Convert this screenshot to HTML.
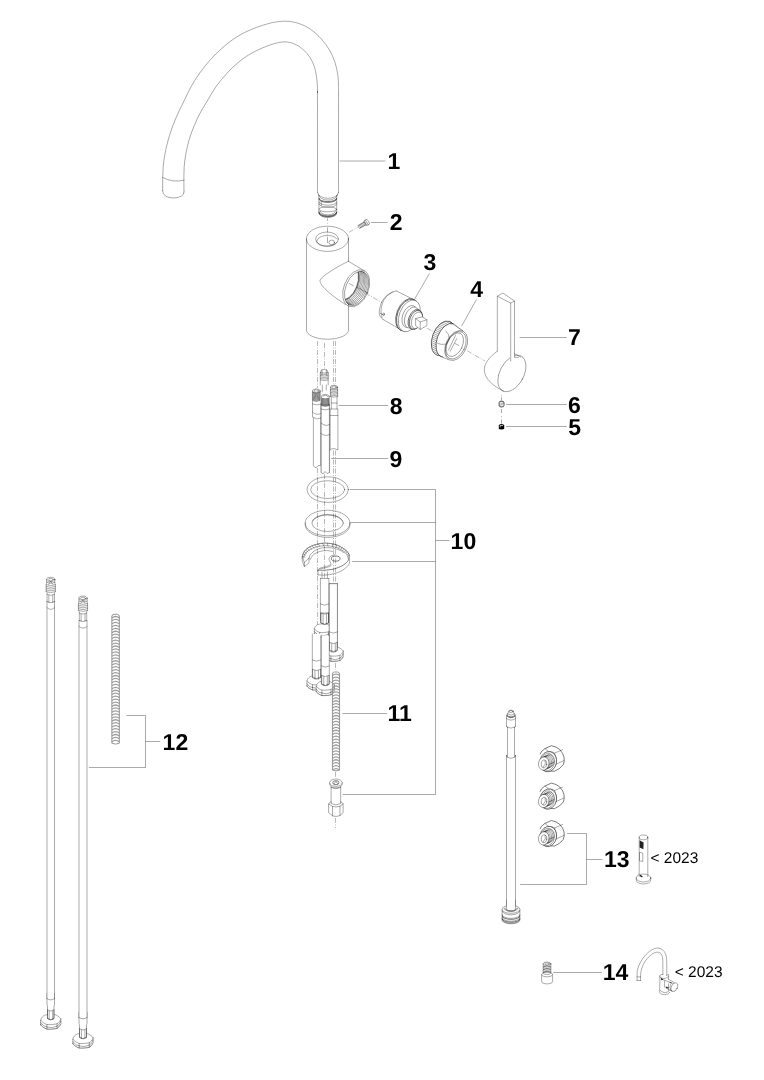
<!DOCTYPE html>
<html lang="en"><head><meta charset="utf-8"><title>Exploded view</title>
<style>
html,body{margin:0;padding:0;background:#fff;}
body{width:764px;height:1080px;overflow:hidden;}
svg{display:block;will-change:transform;opacity:.999}
.l{fill:none;stroke:#000;stroke-width:.34;stroke-linecap:round;stroke-linejoin:round}
.w{fill:#fff;stroke:#000;stroke-width:.34;stroke-linejoin:round}
.k{fill:none;stroke:#000;stroke-width:.52}
.wk{fill:#fff;stroke:#000;stroke-width:.52}
.sp{fill:none;stroke:#9c9c9c;stroke-width:1.25}
.sp2{fill:none;stroke:#8c8c8c;stroke-width:.9}
.ld{fill:none;stroke:#000;stroke-width:.34}
.ax{fill:none;stroke:#000;stroke-width:.28;stroke-dasharray:5 1.5 1 1.5}
.ax2{fill:none;stroke:#000;stroke-width:.34}
.n{font-family:"Liberation Sans",Arial,Helvetica,sans-serif;font-weight:bold;font-size:23px;fill:#000;text-rendering:geometricPrecision}
.y{font-family:"Liberation Sans",Arial,Helvetica,sans-serif;font-size:15.5px;fill:#000;text-rendering:geometricPrecision}
</style></head><body>
<svg width="764" height="1080" viewBox="0 0 764 1080">
<path class="l" d="M162.60 190.60C162.62 188.83 162.60 184.00 162.70 180.00C162.80 176.00 162.82 171.00 163.20 166.60C163.58 162.20 164.20 157.92 165.00 153.60C165.80 149.28 166.82 145.02 168.00 140.70C169.18 136.38 170.53 132.03 172.10 127.70C173.67 123.37 175.50 118.98 177.40 114.70C179.30 110.42 181.10 106.88 183.50 102.00C185.90 97.12 188.95 90.43 191.80 85.40C194.65 80.37 197.47 76.12 200.60 71.80C203.73 67.48 207.17 63.32 210.60 59.50C214.03 55.68 217.47 52.25 221.20 48.90C224.93 45.55 229.07 42.15 233.00 39.40C236.93 36.65 240.87 34.40 244.80 32.40C248.73 30.40 252.23 28.98 256.60 27.40C260.97 25.82 266.12 23.93 271.00 22.90C275.88 21.87 281.25 21.10 285.90 21.20C290.55 21.30 294.77 22.13 298.90 23.50C303.03 24.87 306.97 26.83 310.70 29.40C314.43 31.97 318.17 35.45 321.30 38.90C324.43 42.35 327.25 46.28 329.50 50.10C331.75 53.92 333.42 57.68 334.80 61.80C336.18 65.92 337.18 70.67 337.80 74.80C338.42 78.93 338.38 82.40 338.50 86.60C338.62 90.80 338.50 82.37 338.50 100.00C338.50 117.63 338.50 177.00 338.50 192.40" />
<path class="l" d="M184.00 192.00C183.98 190.00 183.87 184.23 183.90 180.00C183.93 175.77 183.87 171.00 184.20 166.60C184.53 162.20 185.07 158.12 185.90 153.60C186.73 149.08 187.87 144.02 189.20 139.50C190.53 134.98 192.13 130.82 193.90 126.50C195.67 122.18 197.65 117.72 199.80 113.60C201.95 109.48 204.22 106.12 206.80 101.80C209.38 97.48 212.50 91.82 215.30 87.70C218.10 83.58 220.65 80.53 223.60 77.10C226.55 73.67 229.67 70.23 233.00 67.10C236.33 63.97 239.87 60.95 243.60 58.30C247.33 55.65 250.95 53.43 255.40 51.20C259.85 48.97 265.80 46.43 270.30 44.90C274.80 43.37 278.82 42.32 282.40 42.00C285.98 41.68 288.85 42.15 291.80 43.00C294.75 43.85 297.55 45.33 300.10 47.10C302.65 48.87 305.05 51.15 307.10 53.60C309.15 56.05 310.98 58.85 312.40 61.80C313.82 64.75 314.82 67.95 315.60 71.30C316.38 74.65 316.78 78.37 317.10 81.90C317.42 85.43 317.43 89.48 317.50 92.50C317.57 95.52 317.50 83.35 317.50 100.00C317.50 116.65 317.50 177.00 317.50 192.40" />
<path class="l" d="M162.6 177.5Q173 183 184 180.2" />
<path class="l" d="M162.6 190.6Q163 198 173.6 198Q184 197.5 184 192" />
<path class="l" d="M317.5 192.4A10.5 5.9 0 0 0 338.5 192.4" />
<path class="l" d="M318.4 194.3A9.6 5.8 0 0 0 337.6 194.3" />
<path class="l" d="M318.9 195.5L318.9 212.4M336.7 195.5L336.7 212.4" />
<path class="k" d="M318.9 197.9A8.9 3.7 0 0 0 336.7 197.9" />
<path class="k" d="M318.9 198.7A8.9 3.7 0 0 0 336.7 198.7" />
<path class="l" d="M318.9 201.9A8.9 3.3 0 0 0 336.7 201.9" />
<path class="l" d="M318.9 203.8A8.9 3.6 0 0 0 336.7 203.8" />
<path class="l" d="M321.30 201.50L321.30 205.50"/>
<ellipse class="l" cx="327.80" cy="209.30" rx="8.90" ry="2.50"/>
<path class="k" d="M318.9 211.5A8.9 4.4 0 0 0 336.7 211.5" />
<path class="k" d="M318.9 212.2A8.9 4.4 0 0 0 336.7 212.2" />
<path class="k" d="M318.9 212.9A8.9 4.4 0 0 0 336.7 212.9" />
<path class="l" d="M320.2 211.2A7.6 3.6 0 0 0 335.4 211.2" />
<path class="ax2" d="M327.5 218.4V220.8M327.5 223V223.6M327.5 227.4V232.6M327.5 234.5V235.1M327.5 236.8V243"/>
<ellipse class="l" cx="327.50" cy="238.80" rx="21.00" ry="12.60"/>
<path class="l" d="M306.5 238.8L306.5 330A21 9.3 0 0 0 348.5 330L348.5 304.5" />
<path class="l" d="M348.50 238.80L348.50 261.30"/>
<ellipse class="l" cx="327.00" cy="239.00" rx="11.40" ry="7.00"/>
<path class="l" d="M316.8 241.8A10.5 6 0 0 1 336.5 238.6" />
<ellipse class="l" cx="331.70" cy="242.40" rx="2.80" ry="2.30"/>
<path class="l" d="M316.6 242A11 6.5 0 0 0 337.4 242" />
<path class="l" d="M348.5 261.3L364.5 271" />
<path class="l" d="M348.5 261.3C338 266 322 276 320 280C319 286 335 298 345.5 304.5" />
<clipPath id="oc"><ellipse cx="356.6" cy="288.5" rx="10.9" ry="18.0" transform="rotate(22 356.6 288.5)"/></clipPath>
<ellipse class="l" cx="356.20" cy="288.30" rx="12.30" ry="19.40" transform="rotate(22 356.20 288.30)"/>
<ellipse class="l" cx="356.60" cy="288.50" rx="10.90" ry="18.00" transform="rotate(22 356.60 288.50)"/>
<g clip-path="url(#oc)">
<ellipse class="l" cx="355.33" cy="287.81" rx="10.90" ry="18.00" transform="rotate(22 355.33 287.81)"/>
<ellipse class="l" cx="354.05" cy="287.12" rx="10.90" ry="18.00" transform="rotate(22 354.05 287.12)"/>
<ellipse class="l" cx="352.78" cy="286.43" rx="10.90" ry="18.00" transform="rotate(22 352.78 286.43)"/>
<ellipse class="l" cx="351.50" cy="285.73" rx="10.90" ry="18.00" transform="rotate(22 351.50 285.73)"/>
<ellipse class="l" cx="350.23" cy="285.04" rx="10.90" ry="18.00" transform="rotate(22 350.23 285.04)"/>
<ellipse class="l" cx="348.95" cy="284.35" rx="10.90" ry="18.00" transform="rotate(22 348.95 284.35)"/>
<ellipse class="l" cx="347.68" cy="283.66" rx="10.90" ry="18.00" transform="rotate(22 347.68 283.66)"/>
<ellipse class="l" cx="346.40" cy="282.97" rx="10.90" ry="18.00" transform="rotate(22 346.40 282.97)"/>
<ellipse class="k" cx="346.76" cy="283.16" rx="10.90" ry="18.00" transform="rotate(22 346.76 283.16)"/>
</g>
<path class="l" d="M349.50 283.60L353.50 285.80"/>
<path class="ax" d="M349.00 232.30L357.50 227.30"/>
<g transform="translate(364.2 223.9) rotate(-30)">
<path class="l" d="M-6 -1.6L1.5 -1.6L1.5 1.6L-6 1.6Z" />
<path class="l" d="M-5.00 -1.60L-5.00 1.60"/>
<path class="l" d="M-3.70 -1.60L-3.70 1.60"/>
<path class="l" d="M-2.40 -1.60L-2.40 1.60"/>
<path class="l" d="M-1.10 -1.60L-1.10 1.60"/>
<path class="l" d="M0.20 -1.60L0.20 1.60"/>
<path class="l" d="M1.5 -2.8L4.6 -2.8Q5.6 0 4.6 2.8L1.5 2.8Z" />
<path class="l" d="M3.00 -2.80L3.00 2.80"/>
</g>
<path class="ax" d="M365.50 293.10L382.00 302.60"/>
<path class="ax" d="M426.90 328.00L436.00 333.20"/>
<path class="ax" d="M467.20 350.80L485.00 361.00"/>
<path class="l" d="M396.30 290.90C394.92 291.50 390.33 292.82 388.00 294.50C385.67 296.18 383.70 298.58 382.30 301.00C380.90 303.42 380.05 306.63 379.60 309.00C379.15 311.37 379.05 313.47 379.60 315.20C380.15 316.93 382.35 318.70 382.90 319.40" />
<path class="l" d="M393.00 291.60C391.92 292.42 388.25 294.60 386.50 296.50C384.75 298.40 383.42 300.58 382.50 303.00C381.58 305.42 381.08 308.58 381.00 311.00C380.92 313.42 381.83 316.42 382.00 317.50" />
<path class="l" d="M396.30 290.90L413.90 299.70"/>
<path class="l" d="M382.90 319.40L398.50 328.40"/>
<ellipse class="l" cx="383.60" cy="314.20" rx="0.80" ry="1.40" transform="rotate(20 383.60 314.20)"/>
<path class="l" d="M380.30 313.30L382.80 314.60"/>
<ellipse class="wk" cx="406.90" cy="314.70" rx="10.20" ry="16.70" transform="rotate(20.7 406.90 314.70)"/>
<ellipse class="wk" cx="407.70" cy="315.10" rx="10.20" ry="16.70" transform="rotate(20.7 407.70 315.10)"/>
<ellipse class="w" cx="409.30" cy="315.90" rx="10.00" ry="16.50" transform="rotate(20.7 409.30 315.90)"/>
<ellipse class="w" cx="409.60" cy="316.50" rx="7.00" ry="11.40" transform="rotate(20.7 409.60 316.50)"/>
<ellipse class="w" cx="411.80" cy="317.60" rx="6.80" ry="11.00" transform="rotate(20.7 411.80 317.60)"/>
<ellipse class="wk" cx="415.10" cy="319.40" rx="6.40" ry="10.50" transform="rotate(20.7 415.10 319.40)"/>
<ellipse class="wk" cx="415.90" cy="319.80" rx="6.00" ry="9.80" transform="rotate(20.7 415.90 319.80)"/>
<ellipse class="w" cx="417.00" cy="320.30" rx="5.20" ry="8.60" transform="rotate(20.7 417.00 320.30)"/>
<path class="w" d="M415.6 318.5L422.3 316.9L426.9 319.8L426.9 325.6L420.2 329.4L415.6 325.7Z" />
<path class="l" d="M415.6 318.5L420.2 321.9L426.9 319.8M420.2 321.9L420.2 329.4" />
<clipPath id="nc"><ellipse cx="443.3" cy="338.3" rx="11" ry="18" transform="rotate(20 443.3 338.3)"/></clipPath>
<ellipse class="wk" cx="443.30" cy="338.30" rx="11.00" ry="18.00" transform="rotate(20 443.30 338.30)"/>
<g clip-path="url(#nc)">
<path class="l" d="M439.38 308.12L459.38 318.12"/>
<path class="l" d="M438.66 309.77L458.66 319.77"/>
<path class="l" d="M437.94 311.43L457.94 321.43"/>
<path class="l" d="M437.22 313.08L457.22 323.08"/>
<path class="l" d="M436.50 314.74L456.50 324.74"/>
<path class="l" d="M435.78 316.40L455.78 326.40"/>
<path class="l" d="M435.06 318.05L455.06 328.05"/>
<path class="l" d="M434.34 319.71L454.34 329.71"/>
<path class="l" d="M433.62 321.36L453.62 331.36"/>
<path class="l" d="M432.90 323.02L452.90 333.02"/>
<path class="l" d="M432.18 324.68L452.18 334.68"/>
<path class="l" d="M431.46 326.33L451.46 336.33"/>
<path class="l" d="M430.74 327.99L450.74 337.99"/>
<path class="l" d="M430.02 329.64L450.02 339.64"/>
<path class="l" d="M429.30 331.30L449.30 341.30"/>
<path class="l" d="M428.58 332.96L448.58 342.96"/>
<path class="l" d="M427.86 334.61L447.86 344.61"/>
<path class="l" d="M427.14 336.27L447.14 346.27"/>
<path class="l" d="M426.42 337.92L446.42 347.92"/>
<path class="l" d="M425.70 339.58L445.70 349.58"/>
<path class="l" d="M424.98 341.24L444.98 351.24"/>
<path class="l" d="M424.26 342.89L444.26 352.89"/>
<path class="l" d="M423.54 344.55L443.54 354.55"/>
<path class="l" d="M422.82 346.20L442.82 356.20"/>
<path class="l" d="M422.10 347.86L442.10 357.86"/>
<path class="l" d="M421.38 349.52L441.38 359.52"/>
<path class="l" d="M420.66 351.17L440.66 361.17"/>
<path class="l" d="M419.94 352.83L439.94 362.83"/>
<path class="l" d="M419.22 354.48L439.22 364.48"/>
</g>
<path class="w" style="stroke:none" d="M453.5 322.6L466 332L452 361L441.5 356.5Z"/>
<ellipse class="wk" cx="447.60" cy="340.30" rx="10.60" ry="17.50" transform="rotate(20 447.60 340.30)"/>
<path class="w" style="stroke:none" d="M453.5 323.2L466 332L452 361L442.5 357.3Z"/>
<path class="k" d="M449.5 321.4L463.2 331.2" />
<path class="l" d="M439.00 355.60L448.40 359.70"/>
<ellipse class="w" cx="456.20" cy="345.50" rx="10.20" ry="15.90" transform="rotate(26 456.20 345.50)"/>
<ellipse class="l" cx="455.80" cy="345.30" rx="9.20" ry="14.60" transform="rotate(26 455.80 345.30)"/>
<ellipse class="l" cx="454.80" cy="344.70" rx="7.60" ry="12.60" transform="rotate(26 454.80 344.70)"/>
<path class="l" d="M445.7 330.8Q449.8 334.5 449.3 339Q448 343.5 445.5 344.2Q441 345 437.5 343.3" />
<path class="l" d="M448.5 350L455.5 335.5M450.2 351.3L456.8 338.5M455 343.5L459 345.5" />
<ellipse class="l" cx="511.90" cy="373.40" rx="12.00" ry="19.70" transform="rotate(28 511.90 373.40)"/>
<path d="M509.9 349L514.5 349L514.5 357.6L510.7 361.2L509.9 361.9Z" fill="#fff"/>
<path class="l" d="M497.3 351.2L497.3 296.2L502.9 293.0L514.5 301.0L514.5 357.4L518.5 357.4" />
<path class="l" d="M497.3 296.2L510.7 303.1L514.5 301.0M510.7 303.1L510.7 361.2" />
<path class="l" d="M497.3 351.2C489 357 484 364 484.3 370.5C485 379 493 386 503.5 391.2" />
<path class="l" d="M514.5 353.8L520.8 357.0" />
<path class="ax2" d="M501.5 395L501.5 395.7M501.5 397.4L501.5 400.4M501.5 409L501.5 413M501.5 416L501.5 416.8M501.5 419.6L501.5 423.7"/>
<path d="M499.1 402.6Q499.1 401.1 501.5 401.1Q504 401.1 504 402.6L504 405.6Q504 407 501.5 407Q499.1 407 499.1 405.6Z" fill="#b8b8b8" stroke="#333" stroke-width=".8"/>
<path d="M500.3 404.6L500.3 402.6L502.6 402.4M500.6 405.8L503 405.6L503 404" fill="none" stroke="#fff" stroke-width=".7"/>
<path d="M498.8 425.6Q498.8 424 501.5 424Q504.2 424 504.2 425.6L504.2 428.2Q504.2 429.6 501.5 429.6Q498.8 429.6 498.8 428.2Z" fill="#000"/>
<path d="M500.2 427.3L500.2 425.6L503 425.5" fill="none" stroke="#fff" stroke-width=".7"/>
<path class="ax" d="M317.50 341.00L317.50 388.00"/>
<path class="ax" d="M324.50 343.00L324.50 369.00"/>
<path class="ax" d="M333.50 341.00L333.50 384.00"/>
<path class="ax" d="M335.50 341.00L335.50 384.00"/>
<path class="l" d="M320.3 385L320.3 373Q320.3 369.3 324.2 369.3Q328.2 369.3 328.2 373L328.2 385" />
<path class="l" d="M320.30 372.50Q324.25 373.70 328.20 372.50" />
<path class="l" d="M320.30 374.00Q324.25 375.20 328.20 374.00" />
<path class="l" d="M320.30 375.50Q324.25 376.70 328.20 375.50" />
<path class="l" d="M320.30 377.00Q324.25 378.20 328.20 377.00" />
<path class="l" d="M320.30 378.50Q324.25 379.70 328.20 378.50" />
<path class="l" d="M320.30 380.00Q324.25 381.20 328.20 380.00" />
<path class="l" d="M322 369.8L322 375M326.4 369.8L326.4 375" />
<path class="l" d="M322.30 385.00L322.30 392.00"/>
<path class="l" d="M326.30 385.00L326.30 390.00"/>
<ellipse class="l" cx="334.00" cy="387.20" rx="3.60" ry="2.00"/>
<ellipse class="l" cx="334.00" cy="387.20" rx="2.30" ry="1.20"/>
<path class="l" d="M330.4 387.2L330.4 396.5M337.6 387.2L337.6 396.5" />
<path class="l" d="M330.40 389.50Q334.00 390.90 337.60 389.50" />
<path class="l" d="M330.40 390.90Q334.00 392.30 337.60 390.90" />
<path class="l" d="M330.40 392.30Q334.00 393.70 337.60 392.30" />
<path class="l" d="M330.40 393.70Q334.00 395.10 337.60 393.70" />
<path class="l" d="M330.40 395.10Q334.00 396.50 337.60 395.10" />
<path class="l" d="M330.40 396.50Q334.00 397.90 337.60 396.50" />
<path class="l" d="M331.3 397L331.3 409L330.2 409L330.2 449.4M337.0 397L337.0 409L337.9 409L337.9 449.4" />
<path class="l" d="M331.30 403.00L337.00 403.00"/>
<path class="l" d="M331.30 409.00L337.00 409.00"/>
<path class="l" d="M330.20 415.50L337.90 415.50"/>
<ellipse class="l" cx="316.30" cy="391.00" rx="3.90" ry="2.10"/>
<ellipse class="l" cx="316.30" cy="391.00" rx="2.40" ry="1.20"/>
<path class="l" d="M312.4 391L312.4 400M320.2 391L320.2 400" />
<path class="k" d="M312.40 392.60Q316.30 394.10 320.20 392.60" />
<path class="k" d="M312.40 393.73Q316.30 395.23 320.20 393.73" />
<path class="k" d="M312.40 394.86Q316.30 396.36 320.20 394.86" />
<path class="k" d="M312.40 395.99Q316.30 397.49 320.20 395.99" />
<path class="k" d="M312.40 397.11Q316.30 398.61 320.20 397.11" />
<path class="k" d="M312.40 398.24Q316.30 399.74 320.20 398.24" />
<path class="k" d="M312.40 399.37Q316.30 400.87 320.20 399.37" />
<path class="k" d="M312.40 400.50Q316.30 402.00 320.20 400.50" />
<path class="l" d="M312.5 401L312.5 417L313.4 418L313.4 465.6L315 467.6L316.6 467.4L318 465.6L320.8 465.3L320.8 418L321 417L321 401" />
<path class="l" d="M312.5 404Q316.7 406 321 404" />
<path class="l" d="M312.5 412Q316.7 416 321 413.5" />
<path class="l" d="M313.4 417.5Q317 420.5 320.8 418" />
<path class="l" d="M321.2 472.5L321.2 404M329.4 404L329.4 472.5" />
<path class="w" d="M321.2 404L321.2 472.5L323 474L325 471.5L327 473.5L329.4 472.5L329.4 404Z"/>
<ellipse class="l" cx="325.30" cy="396.50" rx="3.90" ry="2.10" style="fill:#fff"/>
<ellipse class="l" cx="325.30" cy="396.50" rx="2.40" ry="1.20"/>
<path class="w" d="M321.4 396.5L321.4 405L329.2 405L329.2 396.5"/>
<path class="k" d="M321.40 398.20Q325.30 399.70 329.20 398.20" />
<path class="k" d="M321.40 399.24Q325.30 400.74 329.20 399.24" />
<path class="k" d="M321.40 400.29Q325.30 401.79 329.20 400.29" />
<path class="k" d="M321.40 401.33Q325.30 402.83 329.20 401.33" />
<path class="k" d="M321.40 402.37Q325.30 403.87 329.20 402.37" />
<path class="k" d="M321.40 403.41Q325.30 404.91 329.20 403.41" />
<path class="k" d="M321.40 404.46Q325.30 405.96 329.20 404.46" />
<path class="k" d="M321.40 405.50Q325.30 407.00 329.20 405.50" />
<path class="l" d="M321.2 409Q325.3 411 329.4 409" />
<path class="l" d="M321.2 423Q325.3 427 329.4 424.5" />
<path class="l" d="M321.2 433.5Q325.3 437 329.4 434.5" />
<path class="l" d="M329.8 450.6L331.4 448.8L335.4 448.7L336.4 449.8L337.8 449.5" />
<path class="ax" d="M317.50 468.00L317.50 633.00"/>
<path class="ax" d="M324.50 474.00L324.50 578.00"/>
<path class="ax" d="M333.50 450.50L333.50 583.00"/>
<path class="ax" d="M335.50 450.50L335.50 583.00"/>
<ellipse class="l" cx="327.70" cy="489.60" rx="20.60" ry="12.80"/>
<ellipse class="l" cx="327.70" cy="489.60" rx="17.00" ry="8.90"/>
<ellipse class="l" cx="327.60" cy="523.00" rx="22.40" ry="12.80"/>
<path class="l" d="M305.2 523.0L305.2 524.6A22.4 12.8 0 0 0 350 524.6L350 523.0" />
<ellipse class="l" cx="327.60" cy="523.00" rx="15.70" ry="8.50"/>
<path class="l" d="M312.6 521A15.7 8.5 0 0 1 342.6 521" />
<path class="k" d="M302.23 557.02C302.45 556.31 302.87 554.04 303.51 552.77C304.15 551.49 304.86 550.43 306.06 549.36C307.27 548.30 309.04 547.21 310.74 546.38C312.45 545.56 313.94 544.99 316.28 544.43C318.62 543.86 321.67 542.98 324.79 542.98C327.91 542.98 332.30 543.76 335.00 544.43C337.70 545.09 339.26 546.09 340.96 546.98C342.66 547.87 344.01 548.82 345.21 549.79C346.42 550.75 347.48 551.70 348.19 552.77C348.90 553.83 349.26 555.60 349.47 556.17" />
<path class="l" d="M303.51 558.04C303.77 557.38 304.33 555.21 305.04 554.04C305.75 552.88 306.60 551.99 307.77 551.06C308.93 550.14 310.46 549.22 312.02 548.51C313.58 547.80 315.00 547.29 317.13 546.81C319.26 546.33 321.95 545.62 324.79 545.62C327.62 545.62 331.74 546.30 334.15 546.81C336.56 547.32 337.77 548.00 339.26 548.68C340.74 549.36 341.95 550.07 343.09 550.89C344.22 551.72 345.26 552.67 346.06 553.62C346.87 554.57 347.62 556.10 347.94 556.60" />
<path class="l" d="M302.55 555.96L304.69 557.04"/>
<path class="l" d="M303.19 553.83L305.46 555.04"/>
<path class="l" d="M304.15 551.91L306.52 553.30"/>
<path class="l" d="M305.43 550.21L307.89 551.81"/>
<path class="l" d="M307.23 548.62L309.63 550.43"/>
<path class="l" d="M309.57 547.13L311.76 549.15"/>
<path class="l" d="M312.13 545.89L314.10 548.09"/>
<path class="l" d="M314.89 544.91L316.65 547.23"/>
<path class="l" d="M318.40 544.06L319.84 546.51"/>
<path class="l" d="M322.66 543.34L323.67 545.91"/>
<path class="l" d="M327.34 543.34L327.93 545.91"/>
<path class="l" d="M332.45 544.06L332.61 546.51"/>
<path class="l" d="M336.49 545.06L336.23 547.28"/>
<path class="l" d="M339.47 546.34L338.78 548.21"/>
<path class="l" d="M342.02 547.68L341.01 549.23"/>
<path class="l" d="M344.15 549.09L342.93 550.34"/>
<path class="l" d="M345.96 550.53L344.63 551.57"/>
<path class="l" d="M347.45 552.02L346.12 552.94"/>
<path class="l" d="M348.51 553.62L347.33 554.36"/>
<path class="l" d="M349.15 555.32L348.27 555.85"/>
<path class="l" d="M349.47 556.17C349.50 556.74 349.64 558.44 349.64 559.57C349.64 560.71 349.78 561.91 349.47 562.98C349.16 564.04 348.62 564.96 347.77 565.96C346.91 566.95 345.57 568.04 344.36 568.94C343.16 569.83 341.95 570.61 340.53 571.32C339.11 572.03 337.34 572.71 335.85 573.19C334.36 573.67 333.01 573.93 331.60 574.21C330.18 574.50 328.90 574.74 327.34 574.89C325.78 575.05 323.79 575.15 322.23 575.15C320.67 575.15 318.69 574.94 317.98 574.89" />
<path class="l" d="M317.98 574.89L317.98 570.21"/>
<path class="k" d="M347.94 556.60C348.02 557.02 348.55 558.30 348.45 559.15C348.35 560.00 348.30 560.64 347.34 561.70C346.38 562.77 344.15 564.58 342.66 565.53C341.17 566.48 339.82 566.84 338.40 567.40C336.99 567.97 335.71 568.54 334.15 568.94C332.59 569.33 330.60 569.57 329.04 569.79C327.48 570.00 326.21 570.14 324.79 570.21C323.37 570.28 321.67 570.21 320.53 570.21C319.40 570.21 318.40 570.21 317.98 570.21" />
<path class="l" d="M317.98 570.21C318.26 569.89 318.69 568.78 319.68 568.26C320.67 567.73 322.38 567.52 323.94 567.06C325.50 566.61 327.88 566.07 329.04 565.53C330.21 564.99 330.74 564.47 330.91 563.83C331.09 563.19 330.38 562.41 330.06 561.70C329.75 560.99 329.14 560.28 329.04 559.57C328.94 558.87 329.11 558.04 329.47 557.45C329.82 556.85 330.36 556.43 331.17 556.00C331.98 555.57 333.79 555.08 334.32 554.89" />
<path class="l" d="M319.68 568.94C320.53 568.77 323.09 568.34 324.79 567.91C326.49 567.49 328.73 566.92 329.89 566.38C331.06 565.84 331.45 564.96 331.77 564.68" />
<ellipse class="k" cx="335.70" cy="558.60" rx="4.30" ry="2.60"/>
<path class="l" d="M309.04 558.30C309.18 557.80 309.40 556.24 309.89 555.32C310.39 554.40 311.03 553.65 312.02 552.77C313.01 551.89 314.43 550.79 315.85 550.04C317.27 549.29 319.04 548.65 320.53 548.26C322.02 547.86 323.37 547.76 324.79 547.66C326.21 547.56 327.62 547.56 329.04 547.66C330.46 547.76 331.88 547.97 333.30 548.26C334.72 548.54 336.21 548.89 337.55 549.36C338.90 549.83 340.32 550.47 341.38 551.06C342.45 551.66 343.51 552.62 343.94 552.94" />
<path class="l" d="M310.32 559.40C310.67 558.79 311.45 556.82 312.45 555.74C313.44 554.67 314.93 553.67 316.28 552.94C317.62 552.20 319.11 551.70 320.53 551.32C321.95 550.94 323.37 550.72 324.79 550.64C326.21 550.55 327.77 550.67 329.04 550.81C330.32 550.95 331.88 551.38 332.45 551.49" />
<path class="l" d="M302.23 557.02L302.23 560.85L304.36 566.55L309.04 562.81L309.04 558.30" />
<path class="l" d="M304.36 566.55L304.36 562.30L309.04 558.30" />
<path class="l" d="M302.23 557.02L304.36 562.30"/>
<path class="l" d="M320.4 578.5L320.4 621M328.9 578.5L328.9 621" />
<path class="l" d="M320.40 578.50L328.90 578.50"/>
<path class="l" d="M322 578L322 572M327.4 578L327.4 572" />
<path class="l" d="M320.4 604Q324.6 606.5 328.9 604" />
<path class="wk" d="M331.50 632.80L331.35 633.19L331.18 633.56L330.97 633.93L330.73 634.29L330.46 634.64L330.15 634.99L329.81 635.33L329.44 635.66L329.03 635.99L328.58 636.32L327.96 636.55L327.25 636.70L326.54 636.83L325.84 636.94L325.14 637.02L324.43 637.10L323.72 637.15L323.00 637.18L322.28 637.19L321.54 637.19L320.79 637.16L320.03 637.12L319.35 636.95L318.75 636.70L318.19 636.44L317.66 636.17L317.16 635.89L316.70 635.60L316.26 635.30L315.85 634.99L315.46 634.66L315.10 634.32L314.77 633.97L314.45 633.60L314.39 633.20L314.50 632.80L314.65 632.41L314.82 632.04L315.03 631.67L315.27 631.31L315.54 630.96L315.85 630.61L316.19 630.27L316.56 629.94L316.97 629.61L317.42 629.28L318.04 629.05L318.75 628.90L319.46 628.77L320.16 628.66L320.86 628.58L321.57 628.50L322.28 628.45L323.00 628.42L323.72 628.41L324.46 628.41L325.21 628.44L325.97 628.48L326.65 628.65L327.25 628.90L327.81 629.16L328.34 629.43L328.84 629.71L329.30 630.00L329.74 630.30L330.15 630.61L330.54 630.94L330.90 631.28L331.23 631.63L331.55 632.00L331.61 632.40Z"/>
<path class="w" style="stroke:none" d="M313.99 628.20L332.01 628.20L332.01 632.80L313.99 632.80Z"/>
<path class="w" d="M331.50 628.20L331.35 628.59L331.18 628.96L330.97 629.33L330.73 629.69L330.46 630.04L330.15 630.39L329.81 630.73L329.44 631.06L329.03 631.39L328.58 631.72L327.96 631.95L327.25 632.10L326.54 632.23L325.84 632.34L325.14 632.42L324.43 632.50L323.72 632.55L323.00 632.58L322.28 632.59L321.54 632.59L320.79 632.56L320.03 632.52L319.35 632.35L318.75 632.10L318.19 631.84L317.66 631.57L317.16 631.29L316.70 631.00L316.26 630.70L315.85 630.39L315.46 630.06L315.10 629.72L314.77 629.37L314.45 629.00L314.39 628.60L314.50 628.20L314.65 627.81L314.82 627.44L315.03 627.07L315.27 626.71L315.54 626.36L315.85 626.01L316.19 625.67L316.56 625.34L316.97 625.01L317.42 624.68L318.04 624.45L318.75 624.30L319.46 624.17L320.16 624.06L320.86 623.98L321.57 623.90L322.28 623.85L323.00 623.82L323.72 623.81L324.46 623.81L325.21 623.84L325.97 623.88L326.65 624.05L327.25 624.30L327.81 624.56L328.34 624.83L328.84 625.11L329.30 625.40L329.74 625.70L330.15 626.01L330.54 626.34L330.90 626.68L331.23 627.03L331.55 627.40L331.61 627.80Z"/>
<path class="l" d="M331.67 627.55L331.67 632.15"/>
<path class="l" d="M328.39 631.86L328.39 636.46"/>
<path class="l" d="M319.72 632.50L319.72 637.10"/>
<path class="l" d="M314.33 628.85L314.33 633.45"/>
<path class="l" d="M331.67 630.08Q330.03 634.40 328.39 634.39" />
<path class="l" d="M328.39 634.39Q324.06 636.87 319.72 635.03" />
<path class="l" d="M319.72 635.03Q317.03 635.37 314.33 631.38" />
<path class="w" d="M320.8 613L320.8 623Q324.6 626 328.5 623L328.5 613Z"/>
<path class="l" d="M320.8 613L320.8 623Q324.65 625.4 328.5 623L328.5 613" />
<path class="l" d="M320.8 613Q324.65 615.4 328.5 613" />
<path class="l" d="M323.05 614.10L323.05 624.10"/>
<path class="l" d="M326.55 614.00L326.55 624.00"/>
<path class="l" d="M329.3 583.7L329.3 647M337.4 583.7L337.4 647" />
<path class="l" d="M329.30 583.70L337.40 583.70"/>
<path class="wk" d="M343.04 656.80L342.90 657.20L342.72 657.59L342.51 657.97L342.26 658.34L341.98 658.70L341.66 659.05L341.31 659.40L340.93 659.75L340.50 660.09L340.04 660.43L339.40 660.66L338.67 660.81L337.95 660.95L337.22 661.06L336.50 661.15L335.77 661.22L335.04 661.27L334.30 661.31L333.55 661.32L332.80 661.31L332.03 661.29L331.24 661.25L330.54 661.07L329.93 660.81L329.35 660.55L328.81 660.27L328.29 659.98L327.81 659.69L327.36 659.38L326.94 659.05L326.54 658.72L326.17 658.37L325.83 658.00L325.50 657.62L325.44 657.21L325.56 656.80L325.70 656.40L325.88 656.01L326.09 655.63L326.34 655.26L326.62 654.90L326.94 654.55L327.29 654.20L327.67 653.85L328.10 653.51L328.56 653.17L329.20 652.94L329.93 652.79L330.65 652.65L331.38 652.54L332.10 652.45L332.83 652.38L333.56 652.33L334.30 652.29L335.05 652.28L335.80 652.29L336.57 652.31L337.36 652.35L338.06 652.53L338.67 652.79L339.25 653.05L339.79 653.33L340.31 653.62L340.79 653.91L341.24 654.22L341.66 654.55L342.06 654.88L342.43 655.23L342.77 655.60L343.10 655.98L343.16 656.39Z"/>
<path class="w" style="stroke:none" d="M325.03 651.60L343.57 651.60L343.57 656.80L325.03 656.80Z"/>
<path class="w" d="M343.04 651.60L342.90 652.00L342.72 652.39L342.51 652.77L342.26 653.14L341.98 653.50L341.66 653.85L341.31 654.20L340.93 654.55L340.50 654.89L340.04 655.23L339.40 655.46L338.67 655.61L337.95 655.75L337.22 655.86L336.50 655.95L335.77 656.02L335.04 656.07L334.30 656.11L333.55 656.12L332.80 656.11L332.03 656.09L331.24 656.05L330.54 655.87L329.93 655.61L329.35 655.35L328.81 655.07L328.29 654.78L327.81 654.49L327.36 654.18L326.94 653.85L326.54 653.52L326.17 653.17L325.83 652.80L325.50 652.42L325.44 652.01L325.56 651.60L325.70 651.20L325.88 650.81L326.09 650.43L326.34 650.06L326.62 649.70L326.94 649.35L327.29 649.00L327.67 648.65L328.10 648.31L328.56 647.97L329.20 647.74L329.93 647.59L330.65 647.45L331.38 647.34L332.10 647.25L332.83 647.18L333.56 647.13L334.30 647.09L335.05 647.08L335.80 647.09L336.57 647.11L337.36 647.15L338.06 647.33L338.67 647.59L339.25 647.85L339.79 648.13L340.31 648.42L340.79 648.71L341.24 649.02L341.66 649.35L342.06 649.68L342.43 650.03L342.77 650.40L343.10 650.78L343.16 651.19Z"/>
<path class="l" d="M343.22 650.94L343.22 656.14"/>
<path class="l" d="M339.85 655.36L339.85 660.56"/>
<path class="l" d="M330.92 656.03L330.92 661.23"/>
<path class="l" d="M325.38 652.26L325.38 657.46"/>
<path class="l" d="M343.22 653.80Q341.54 658.45 339.85 658.22" />
<path class="l" d="M339.85 658.22Q335.39 661.00 330.92 658.89" />
<path class="l" d="M330.92 658.89Q328.15 659.45 325.38 655.12" />
<path class="w" d="M329.3 583.7L329.3 650Q333.4 653 337.4 650L337.4 583.7Z"/>
<path class="l" d="M329.3 632Q333.4 634.5 337.4 632" />
<path class="l" d="M329.6 642.5L329.6 651Q333.35 653.4 337.1 651L337.1 642.5" />
<path class="l" d="M329.6 642.5Q333.35 644.9 337.1 642.5" />
<path class="l" d="M331.75 643.60L331.75 652.10"/>
<path class="l" d="M335.25 643.50L335.25 652.00"/>
<path class="wk" d="M324.64 685.50L324.50 685.90L324.32 686.29L324.11 686.67L323.86 687.04L323.58 687.40L323.26 687.75L322.91 688.10L322.53 688.45L322.10 688.79L321.64 689.13L321.00 689.36L320.27 689.51L319.55 689.65L318.82 689.76L318.10 689.85L317.37 689.92L316.64 689.97L315.90 690.01L315.15 690.02L314.40 690.01L313.63 689.99L312.84 689.95L312.14 689.77L311.53 689.51L310.95 689.25L310.41 688.97L309.89 688.68L309.41 688.39L308.96 688.08L308.54 687.75L308.14 687.42L307.77 687.07L307.43 686.70L307.10 686.32L307.04 685.91L307.16 685.50L307.30 685.10L307.48 684.71L307.69 684.33L307.94 683.96L308.22 683.60L308.54 683.25L308.89 682.90L309.27 682.55L309.70 682.21L310.16 681.87L310.80 681.64L311.53 681.49L312.25 681.35L312.98 681.24L313.70 681.15L314.43 681.08L315.16 681.03L315.90 680.99L316.65 680.98L317.40 680.99L318.17 681.01L318.96 681.05L319.66 681.23L320.27 681.49L320.85 681.75L321.39 682.03L321.91 682.32L322.39 682.61L322.84 682.92L323.26 683.25L323.66 683.58L324.03 683.93L324.37 684.30L324.70 684.68L324.76 685.09Z"/>
<path class="w" style="stroke:none" d="M306.62 680.30L325.17 680.30L325.17 685.50L306.62 685.50Z"/>
<path class="w" d="M324.64 680.30L324.50 680.70L324.32 681.09L324.11 681.47L323.86 681.84L323.58 682.20L323.26 682.55L322.91 682.90L322.53 683.25L322.10 683.59L321.64 683.93L321.00 684.16L320.27 684.31L319.55 684.45L318.82 684.56L318.10 684.65L317.37 684.72L316.64 684.77L315.90 684.81L315.15 684.82L314.40 684.81L313.63 684.79L312.84 684.75L312.14 684.57L311.53 684.31L310.95 684.05L310.41 683.77L309.89 683.48L309.41 683.19L308.96 682.88L308.54 682.55L308.14 682.22L307.77 681.87L307.43 681.50L307.10 681.12L307.04 680.71L307.16 680.30L307.30 679.90L307.48 679.51L307.69 679.13L307.94 678.76L308.22 678.40L308.54 678.05L308.89 677.70L309.27 677.35L309.70 677.01L310.16 676.67L310.80 676.44L311.53 676.29L312.25 676.15L312.98 676.04L313.70 675.95L314.43 675.88L315.16 675.83L315.90 675.79L316.65 675.78L317.40 675.79L318.17 675.81L318.96 675.85L319.66 676.03L320.27 676.29L320.85 676.55L321.39 676.83L321.91 677.12L322.39 677.41L322.84 677.72L323.26 678.05L323.66 678.38L324.03 678.73L324.37 679.10L324.70 679.48L324.76 679.89Z"/>
<path class="l" d="M324.82 679.64L324.82 684.84"/>
<path class="l" d="M321.45 684.06L321.45 689.26"/>
<path class="l" d="M312.52 684.73L312.52 689.93"/>
<path class="l" d="M306.98 680.96L306.98 686.16"/>
<path class="l" d="M324.82 682.50Q323.14 687.15 321.45 686.92" />
<path class="l" d="M321.45 686.92Q316.99 689.70 312.52 687.59" />
<path class="l" d="M312.52 687.59Q309.75 688.15 306.98 683.82" />
<path class="w" style="stroke:none" d="M312.3 634L312.3 677Q316.5 680 320.8 677L320.8 634Z"/>
<path class="l" d="M312.3 634L312.3 677Q316.5 680 320.8 677L320.8 636" />
<path class="l" d="M312.3 660Q316.5 662.5 320.8 660" />
<path class="l" d="M312.6 669.5L312.6 678Q316.55 680.4 320.5 678L320.5 669.5" />
<path class="l" d="M312.6 669.5Q316.55 671.9 320.5 669.5" />
<path class="l" d="M314.95 670.60L314.95 679.10"/>
<path class="l" d="M318.45 670.50L318.45 679.00"/>
<path class="wk" d="M334.19 691.00L334.04 691.41L333.86 691.80L333.65 692.19L333.40 692.56L333.11 692.93L332.79 693.29L332.43 693.65L332.04 694.00L331.61 694.34L331.14 694.69L330.49 694.93L329.75 695.08L329.01 695.22L328.27 695.33L327.54 695.42L326.80 695.50L326.05 695.55L325.30 695.58L324.54 695.60L323.77 695.59L322.99 695.57L322.19 695.53L321.47 695.35L320.85 695.08L320.27 694.81L319.71 694.53L319.19 694.24L318.70 693.94L318.24 693.62L317.81 693.29L317.41 692.95L317.03 692.59L316.68 692.22L316.35 691.84L316.28 691.42L316.41 691.00L316.56 690.59L316.74 690.20L316.95 689.81L317.20 689.44L317.49 689.07L317.81 688.71L318.17 688.35L318.56 688.00L318.99 687.66L319.46 687.31L320.11 687.07L320.85 686.92L321.59 686.78L322.33 686.67L323.06 686.58L323.80 686.50L324.55 686.45L325.30 686.42L326.06 686.40L326.83 686.41L327.61 686.43L328.41 686.47L329.13 686.65L329.75 686.92L330.33 687.19L330.89 687.47L331.41 687.76L331.90 688.06L332.36 688.38L332.79 688.71L333.19 689.05L333.57 689.41L333.92 689.78L334.25 690.16L334.32 690.58Z"/>
<path class="w" style="stroke:none" d="M315.87 685.60L334.73 685.60L334.73 691.00L315.87 691.00Z"/>
<path class="w" d="M334.19 685.60L334.04 686.01L333.86 686.40L333.65 686.79L333.40 687.16L333.11 687.53L332.79 687.89L332.43 688.25L332.04 688.60L331.61 688.94L331.14 689.29L330.49 689.53L329.75 689.68L329.01 689.82L328.27 689.93L327.54 690.02L326.80 690.10L326.05 690.15L325.30 690.18L324.54 690.20L323.77 690.19L322.99 690.17L322.19 690.13L321.47 689.95L320.85 689.68L320.27 689.41L319.71 689.13L319.19 688.84L318.70 688.54L318.24 688.22L317.81 687.89L317.41 687.55L317.03 687.19L316.68 686.82L316.35 686.44L316.28 686.02L316.41 685.60L316.56 685.19L316.74 684.80L316.95 684.41L317.20 684.04L317.49 683.67L317.81 683.31L318.17 682.95L318.56 682.60L318.99 682.26L319.46 681.91L320.11 681.67L320.85 681.52L321.59 681.38L322.33 681.27L323.06 681.18L323.80 681.10L324.55 681.05L325.30 681.02L326.06 681.00L326.83 681.01L327.61 681.03L328.41 681.07L329.13 681.25L329.75 681.52L330.33 681.79L330.89 682.07L331.41 682.36L331.90 682.66L332.36 682.98L332.79 683.31L333.19 683.65L333.57 684.01L333.92 684.38L334.25 684.76L334.32 685.18Z"/>
<path class="l" d="M334.38 684.92L334.38 690.32"/>
<path class="l" d="M330.94 689.43L330.94 694.83"/>
<path class="l" d="M321.87 690.10L321.87 695.50"/>
<path class="l" d="M316.22 686.28L316.22 691.68"/>
<path class="l" d="M334.38 687.89Q332.66 692.68 330.94 692.40" />
<path class="l" d="M330.94 692.40Q326.40 695.27 321.87 693.07" />
<path class="l" d="M321.87 693.07Q319.04 693.70 316.22 689.25" />
<path class="w" style="stroke:none" d="M321.4 635.4L321.4 684Q325.4 687 329.3 684L329.3 635.4Z"/>
<path class="l" d="M321.4 636L321.4 684Q325.4 687 329.3 684L329.3 635.4" />
<path class="l" d="M321.4 666Q325.4 668.5 329.3 666" />
<path class="l" d="M321.7 675.5L321.7 684.5Q325.35 686.9 329.0 684.5L329.0 675.5" />
<path class="l" d="M321.7 675.5Q325.35 677.9 329.0 675.5" />
<path class="l" d="M323.75 676.60L323.75 685.60"/>
<path class="l" d="M327.25 676.50L327.25 685.50"/>
<path class="ax" d="M335.50 663.00L335.50 670.00"/>
<path class="sp2" d="M332.60 673.90Q332.80 672.00 334.40 672.00L337.60 672.00Q339.20 672.00 339.40 673.90" />
<path class="sp" d="M332.50 675.60Q336.00 672.80 339.50 675.60" />
<path class="sp" d="M332.50 678.55Q336.00 675.75 339.50 678.55" />
<path class="sp" d="M332.50 681.50Q336.00 678.70 339.50 681.50" />
<path class="sp" d="M332.50 684.45Q336.00 681.65 339.50 684.45" />
<path class="sp" d="M332.50 687.40Q336.00 684.60 339.50 687.40" />
<path class="sp" d="M332.50 690.35Q336.00 687.55 339.50 690.35" />
<path class="sp" d="M332.50 693.30Q336.00 690.50 339.50 693.30" />
<path class="sp" d="M332.50 696.25Q336.00 693.45 339.50 696.25" />
<path class="sp" d="M332.50 699.20Q336.00 696.40 339.50 699.20" />
<path class="sp" d="M332.50 702.15Q336.00 699.35 339.50 702.15" />
<path class="sp" d="M332.50 705.10Q336.00 702.30 339.50 705.10" />
<path class="sp" d="M332.50 708.05Q336.00 705.25 339.50 708.05" />
<path class="sp" d="M332.50 711.00Q336.00 708.20 339.50 711.00" />
<path class="sp" d="M332.50 713.95Q336.00 711.15 339.50 713.95" />
<path class="sp" d="M332.50 716.90Q336.00 714.10 339.50 716.90" />
<path class="sp" d="M332.50 719.85Q336.00 717.05 339.50 719.85" />
<path class="sp" d="M332.50 722.80Q336.00 720.00 339.50 722.80" />
<path class="sp" d="M332.50 725.75Q336.00 722.95 339.50 725.75" />
<path class="sp" d="M332.50 728.70Q336.00 725.90 339.50 728.70" />
<path class="sp" d="M332.50 731.65Q336.00 728.85 339.50 731.65" />
<path class="sp" d="M332.50 734.60Q336.00 731.80 339.50 734.60" />
<path class="sp" d="M332.50 737.55Q336.00 734.75 339.50 737.55" />
<path class="sp" d="M332.50 740.50Q336.00 737.70 339.50 740.50" />
<path class="sp" d="M332.50 743.45Q336.00 740.65 339.50 743.45" />
<path class="sp" d="M332.50 746.40Q336.00 743.60 339.50 746.40" />
<path class="sp" d="M332.50 749.35Q336.00 746.55 339.50 749.35" />
<path class="sp" d="M332.50 752.30Q336.00 749.50 339.50 752.30" />
<path class="sp" d="M332.50 755.25Q336.00 752.45 339.50 755.25" />
<path class="sp" d="M332.50 758.20Q336.00 755.40 339.50 758.20" />
<path class="sp" d="M332.50 761.15Q336.00 758.35 339.50 761.15" />
<path class="sp" d="M332.50 764.10Q336.00 761.30 339.50 764.10" />
<path class="sp" d="M332.50 767.05Q336.00 764.25 339.50 767.05" />
<path class="sp" d="M332.50 770.00Q336.00 767.20 339.50 770.00" />
<path class="sp2" d="M332.45 673.50L332.45 770.00"/>
<path class="sp2" d="M339.55 673.50L339.55 770.00"/>
<path class="sp2" d="M332.45 770.00Q336.00 771.80 339.55 770.00" />
<path class="ax" d="M335.50 771.80L335.50 777.00"/>
<path class="l" d="M329.65 782.7L329.65 784.2A6.25 3.7 0 0 0 342.15 784.2L342.15 782.7" />
<ellipse class="w" cx="335.90" cy="782.70" rx="6.25" ry="3.70" transform="rotate(0 335.90 782.70)"/>
<ellipse class="k" cx="335.90" cy="782.70" rx="3.10" ry="2.00"/>
<path class="l" d="M334.4 783.6L335.9 781.5L337.5 783.5" />
<path class="l" d="M331.09999999999997 786.9L331.09999999999997 802.5M340.7 786.9L340.7 802.5" />
<path class="l" d="M331.09999999999997 787.6Q335.9 790 340.7 787.6" />
<path class="w" d="M328.59999999999997 803.8L330.9 801.6L331.09999999999997 801.6L331.09999999999997 803.5Q335.9 806.3 340.7 803.5L340.7 801.6L340.9 801.6L343.09999999999997 803.8L343.09999999999997 812.6L340.0 815.6Q335.9 817.3 332.5 815.8L328.59999999999997 812.6Z"/>
<path class="l" d="M328.59999999999997 803.8L332.5 806.4Q335.9 807.6 340.0 806.2L343.09999999999997 803.8M332.5 806.4L332.5 815.8M340.0 806.2L340.0 815.6" />
<path class="ax" d="M335.50 818.00L335.50 828.00"/>
<ellipse class="l" cx="50.75" cy="579.40" rx="4.10" ry="2.10"/>
<ellipse class="l" cx="50.75" cy="579.60" rx="2.50" ry="1.20"/>
<path class="l" d="M46.65 579.4000000000001L46.65 583.2L46.15 584.7L46.15 591.7M54.85 579.4000000000001L54.85 583.2L55.35 584.7L55.35 591.7" />
<path class="l" d="M46.65 582.40Q50.75 584.40 54.85 582.40" />
<path class="l" d="M46.15 584.70Q50.75 586.70 55.35 584.70" />
<path class="l" d="M46.15 586.45Q50.75 588.45 55.35 586.45" />
<path class="l" d="M46.15 588.20Q50.75 590.20 55.35 588.20" />
<path class="l" d="M46.15 589.95Q50.75 591.95 55.35 589.95" />
<path class="l" d="M46.15 591.70Q50.75 593.70 55.35 591.70" />
<path class="l" d="M48.55 584.4000000000001L50.75 581.4000000000001L52.95 584.4000000000001" />
<path class="l" d="M47.05 592.7L47.05 601.7M54.45 592.7L54.45 601.7" />
<path class="l" d="M47.05 594.4000000000001Q50.75 596.4000000000001 54.45 594.4000000000001" />
<path class="l" d="M48.85 595.40L48.85 602.60"/>
<path class="l" d="M52.75 595.40L52.75 602.60"/>
<path class="l" d="M47.05 601.7Q50.75 604.0 54.45 601.7" />
<path class="l" d="M47.0 601.7L47.0 999.0M54.5 601.7L54.5 999.0" />
<path class="l" d="M47.0 607.7Q50.75 611.2 54.5 607.7" />
<path class="wk" d="M60.64 1024.10L60.48 1024.55L60.27 1024.99L60.03 1025.42L59.76 1025.84L59.44 1026.25L59.08 1026.65L58.68 1027.04L58.25 1027.43L57.77 1027.82L57.25 1028.20L56.52 1028.47L55.70 1028.64L54.88 1028.79L54.06 1028.92L53.24 1029.02L52.41 1029.10L51.59 1029.16L50.75 1029.20L49.91 1029.21L49.05 1029.21L48.18 1029.18L47.29 1029.13L46.49 1028.94L45.80 1028.64L45.15 1028.34L44.53 1028.03L43.95 1027.70L43.41 1027.37L42.90 1027.01L42.42 1026.65L41.97 1026.27L41.55 1025.87L41.16 1025.46L40.79 1025.03L40.72 1024.57L40.86 1024.10L41.02 1023.65L41.23 1023.21L41.47 1022.78L41.74 1022.36L42.06 1021.95L42.42 1021.55L42.82 1021.16L43.25 1020.77L43.73 1020.38L44.25 1020.00L44.98 1019.73L45.80 1019.56L46.62 1019.41L47.44 1019.28L48.26 1019.18L49.09 1019.10L49.91 1019.04L50.75 1019.00L51.59 1018.99L52.45 1018.99L53.32 1019.02L54.21 1019.07L55.01 1019.26L55.70 1019.56L56.35 1019.86L56.97 1020.17L57.55 1020.50L58.09 1020.83L58.60 1021.19L59.08 1021.55L59.53 1021.93L59.95 1022.33L60.34 1022.74L60.71 1023.17L60.78 1023.63Z"/>
<path class="w" style="stroke:none" d="M40.26 1019.50L61.24 1019.50L61.24 1024.10L40.26 1024.10Z"/>
<path class="w" d="M60.64 1019.50L60.48 1019.95L60.27 1020.39L60.03 1020.82L59.76 1021.24L59.44 1021.65L59.08 1022.05L58.68 1022.44L58.25 1022.83L57.77 1023.22L57.25 1023.60L56.52 1023.87L55.70 1024.04L54.88 1024.19L54.06 1024.32L53.24 1024.42L52.41 1024.50L51.59 1024.56L50.75 1024.60L49.91 1024.61L49.05 1024.61L48.18 1024.58L47.29 1024.53L46.49 1024.34L45.80 1024.04L45.15 1023.74L44.53 1023.43L43.95 1023.10L43.41 1022.77L42.90 1022.41L42.42 1022.05L41.97 1021.67L41.55 1021.27L41.16 1020.86L40.79 1020.43L40.72 1019.97L40.86 1019.50L41.02 1019.05L41.23 1018.61L41.47 1018.18L41.74 1017.76L42.06 1017.35L42.42 1016.95L42.82 1016.56L43.25 1016.17L43.73 1015.78L44.25 1015.40L44.98 1015.13L45.80 1014.96L46.62 1014.81L47.44 1014.68L48.26 1014.58L49.09 1014.50L49.91 1014.44L50.75 1014.40L51.59 1014.39L52.45 1014.39L53.32 1014.42L54.21 1014.47L55.01 1014.66L55.70 1014.96L56.35 1015.26L56.97 1015.57L57.55 1015.90L58.09 1016.23L58.60 1016.59L59.08 1016.95L59.53 1017.33L59.95 1017.73L60.34 1018.14L60.71 1018.57L60.78 1019.03Z"/>
<path class="l" d="M60.85 1018.75L60.85 1023.35"/>
<path class="l" d="M57.03 1023.76L57.03 1028.36"/>
<path class="l" d="M46.93 1024.51L46.93 1029.11"/>
<path class="l" d="M40.65 1020.25L40.65 1024.85"/>
<path class="l" d="M60.85 1021.28Q58.94 1025.95 57.03 1026.29" />
<path class="l" d="M57.03 1026.29Q51.98 1028.83 46.93 1027.04" />
<path class="l" d="M46.93 1027.04Q43.79 1027.07 40.65 1022.78" />
<path class="w" d="M47.0 993.0L47.0 1005.0L47.5 1006.0L47.5 1018.5Q50.75 1021.5 54.0 1018.5L54.0 1006.0L54.5 1005.0L54.5 993.0"/>
<path class="l" d="M47.0 998.5Q50.75 1001.5 54.5 998.5" />
<path class="l" d="M47.5 1010.0L47.5 1018.5Q50.75 1020.9 54.0 1018.5L54.0 1010.0" />
<path class="l" d="M47.5 1010.0Q50.75 1012.4 54.0 1010.0" />
<path class="l" d="M49.15 1011.10L49.15 1019.60"/>
<path class="l" d="M52.65 1011.00L52.65 1019.50"/>
<ellipse class="l" cx="83.00" cy="598.20" rx="4.10" ry="2.10"/>
<ellipse class="l" cx="83.00" cy="598.40" rx="2.50" ry="1.20"/>
<path class="l" d="M78.9 598.2L78.9 602.0L78.4 603.5L78.4 610.5M87.1 598.2L87.1 602.0L87.6 603.5L87.6 610.5" />
<path class="l" d="M78.90 601.20Q83.00 603.20 87.10 601.20" />
<path class="l" d="M78.40 603.50Q83.00 605.50 87.60 603.50" />
<path class="l" d="M78.40 605.25Q83.00 607.25 87.60 605.25" />
<path class="l" d="M78.40 607.00Q83.00 609.00 87.60 607.00" />
<path class="l" d="M78.40 608.75Q83.00 610.75 87.60 608.75" />
<path class="l" d="M78.40 610.50Q83.00 612.50 87.60 610.50" />
<path class="l" d="M80.8 603.2L83.0 600.2L85.2 603.2" />
<path class="l" d="M79.3 611.5L79.3 620.5M86.7 611.5L86.7 620.5" />
<path class="l" d="M79.3 613.2Q83.0 615.2 86.7 613.2" />
<path class="l" d="M81.10 614.20L81.10 621.40"/>
<path class="l" d="M85.00 614.20L85.00 621.40"/>
<path class="l" d="M79.3 620.5Q83.0 622.8 86.7 620.5" />
<path class="l" d="M79.0 620.5L79.0 1017.9M87.0 620.5L87.0 1017.9" />
<path class="l" d="M79.0 626.5Q83.0 630.0 87.0 626.5" />
<path class="wk" d="M92.89 1043.00L92.73 1043.45L92.52 1043.89L92.28 1044.32L92.01 1044.74L91.69 1045.15L91.33 1045.55L90.93 1045.94L90.50 1046.33L90.02 1046.72L89.50 1047.10L88.77 1047.37L87.95 1047.54L87.13 1047.69L86.31 1047.82L85.49 1047.92L84.66 1048.00L83.84 1048.06L83.00 1048.10L82.16 1048.11L81.30 1048.11L80.43 1048.08L79.54 1048.03L78.74 1047.84L78.05 1047.54L77.40 1047.24L76.78 1046.93L76.20 1046.60L75.66 1046.27L75.15 1045.91L74.67 1045.55L74.22 1045.17L73.80 1044.77L73.41 1044.36L73.04 1043.93L72.97 1043.47L73.11 1043.00L73.27 1042.55L73.48 1042.11L73.72 1041.68L73.99 1041.26L74.31 1040.85L74.67 1040.45L75.07 1040.06L75.50 1039.67L75.98 1039.28L76.50 1038.90L77.23 1038.63L78.05 1038.46L78.87 1038.31L79.69 1038.18L80.51 1038.08L81.34 1038.00L82.16 1037.94L83.00 1037.90L83.84 1037.89L84.70 1037.89L85.57 1037.92L86.46 1037.97L87.26 1038.16L87.95 1038.46L88.60 1038.76L89.22 1039.07L89.80 1039.40L90.34 1039.73L90.85 1040.09L91.33 1040.45L91.78 1040.83L92.20 1041.23L92.59 1041.64L92.96 1042.07L93.03 1042.53Z"/>
<path class="w" style="stroke:none" d="M72.51 1038.40L93.49 1038.40L93.49 1043.00L72.51 1043.00Z"/>
<path class="w" d="M92.89 1038.40L92.73 1038.85L92.52 1039.29L92.28 1039.72L92.01 1040.14L91.69 1040.55L91.33 1040.95L90.93 1041.34L90.50 1041.73L90.02 1042.12L89.50 1042.50L88.77 1042.77L87.95 1042.94L87.13 1043.09L86.31 1043.22L85.49 1043.32L84.66 1043.40L83.84 1043.46L83.00 1043.50L82.16 1043.51L81.30 1043.51L80.43 1043.48L79.54 1043.43L78.74 1043.24L78.05 1042.94L77.40 1042.64L76.78 1042.33L76.20 1042.00L75.66 1041.67L75.15 1041.31L74.67 1040.95L74.22 1040.57L73.80 1040.17L73.41 1039.76L73.04 1039.33L72.97 1038.87L73.11 1038.40L73.27 1037.95L73.48 1037.51L73.72 1037.08L73.99 1036.66L74.31 1036.25L74.67 1035.85L75.07 1035.46L75.50 1035.07L75.98 1034.68L76.50 1034.30L77.23 1034.03L78.05 1033.86L78.87 1033.71L79.69 1033.58L80.51 1033.48L81.34 1033.40L82.16 1033.34L83.00 1033.30L83.84 1033.29L84.70 1033.29L85.57 1033.32L86.46 1033.37L87.26 1033.56L87.95 1033.86L88.60 1034.16L89.22 1034.47L89.80 1034.80L90.34 1035.13L90.85 1035.49L91.33 1035.85L91.78 1036.23L92.20 1036.63L92.59 1037.04L92.96 1037.47L93.03 1037.93Z"/>
<path class="l" d="M93.10 1037.65L93.10 1042.25"/>
<path class="l" d="M89.28 1042.66L89.28 1047.26"/>
<path class="l" d="M79.18 1043.41L79.18 1048.01"/>
<path class="l" d="M72.90 1039.15L72.90 1043.75"/>
<path class="l" d="M93.10 1040.18Q91.19 1044.85 89.28 1045.19" />
<path class="l" d="M89.28 1045.19Q84.23 1047.73 79.18 1045.94" />
<path class="l" d="M79.18 1045.94Q76.04 1045.97 72.90 1041.68" />
<path class="w" d="M79.0 1011.9L79.0 1023.9L79.5 1024.9L79.5 1037.4Q83.0 1040.4 86.5 1037.4L86.5 1024.9L87.0 1023.9L87.0 1011.9"/>
<path class="l" d="M79.0 1017.4Q83.0 1020.4 87.0 1017.4" />
<path class="l" d="M79.5 1028.9L79.5 1037.4Q83.0 1039.8000000000002 86.5 1037.4L86.5 1028.9" />
<path class="l" d="M79.5 1028.9Q83.0 1031.3000000000002 86.5 1028.9" />
<path class="l" d="M81.40 1030.00L81.40 1038.50"/>
<path class="l" d="M84.90 1029.90L84.90 1038.40"/>
<path class="sp2" d="M112.00 616.20Q112.20 614.30 114.00 614.30L117.20 614.30Q119.00 614.30 119.20 616.20" />
<path class="sp" d="M111.90 617.90Q115.60 615.10 119.30 617.90" />
<path class="sp" d="M111.90 620.85Q115.60 618.05 119.30 620.85" />
<path class="sp" d="M111.90 623.80Q115.60 621.00 119.30 623.80" />
<path class="sp" d="M111.90 626.75Q115.60 623.95 119.30 626.75" />
<path class="sp" d="M111.90 629.70Q115.60 626.90 119.30 629.70" />
<path class="sp" d="M111.90 632.65Q115.60 629.85 119.30 632.65" />
<path class="sp" d="M111.90 635.60Q115.60 632.80 119.30 635.60" />
<path class="sp" d="M111.90 638.55Q115.60 635.75 119.30 638.55" />
<path class="sp" d="M111.90 641.50Q115.60 638.70 119.30 641.50" />
<path class="sp" d="M111.90 644.45Q115.60 641.65 119.30 644.45" />
<path class="sp" d="M111.90 647.40Q115.60 644.60 119.30 647.40" />
<path class="sp" d="M111.90 650.35Q115.60 647.55 119.30 650.35" />
<path class="sp" d="M111.90 653.30Q115.60 650.50 119.30 653.30" />
<path class="sp" d="M111.90 656.25Q115.60 653.45 119.30 656.25" />
<path class="sp" d="M111.90 659.20Q115.60 656.40 119.30 659.20" />
<path class="sp" d="M111.90 662.15Q115.60 659.35 119.30 662.15" />
<path class="sp" d="M111.90 665.10Q115.60 662.30 119.30 665.10" />
<path class="sp" d="M111.90 668.05Q115.60 665.25 119.30 668.05" />
<path class="sp" d="M111.90 671.00Q115.60 668.20 119.30 671.00" />
<path class="sp" d="M111.90 673.95Q115.60 671.15 119.30 673.95" />
<path class="sp" d="M111.90 676.90Q115.60 674.10 119.30 676.90" />
<path class="sp" d="M111.90 679.85Q115.60 677.05 119.30 679.85" />
<path class="sp" d="M111.90 682.80Q115.60 680.00 119.30 682.80" />
<path class="sp" d="M111.90 685.75Q115.60 682.95 119.30 685.75" />
<path class="sp" d="M111.90 688.70Q115.60 685.90 119.30 688.70" />
<path class="sp" d="M111.90 691.65Q115.60 688.85 119.30 691.65" />
<path class="sp" d="M111.90 694.60Q115.60 691.80 119.30 694.60" />
<path class="sp" d="M111.90 697.55Q115.60 694.75 119.30 697.55" />
<path class="sp" d="M111.90 700.50Q115.60 697.70 119.30 700.50" />
<path class="sp" d="M111.90 703.45Q115.60 700.65 119.30 703.45" />
<path class="sp" d="M111.90 706.40Q115.60 703.60 119.30 706.40" />
<path class="sp" d="M111.90 709.35Q115.60 706.55 119.30 709.35" />
<path class="sp" d="M111.90 712.30Q115.60 709.50 119.30 712.30" />
<path class="sp" d="M111.90 715.25Q115.60 712.45 119.30 715.25" />
<path class="sp" d="M111.90 718.20Q115.60 715.40 119.30 718.20" />
<path class="sp" d="M111.90 721.15Q115.60 718.35 119.30 721.15" />
<path class="sp" d="M111.90 724.10Q115.60 721.30 119.30 724.10" />
<path class="sp" d="M111.90 727.05Q115.60 724.25 119.30 727.05" />
<path class="sp" d="M111.90 730.00Q115.60 727.20 119.30 730.00" />
<path class="sp" d="M111.90 732.95Q115.60 730.15 119.30 732.95" />
<path class="sp" d="M111.90 735.90Q115.60 733.10 119.30 735.90" />
<path class="sp" d="M111.90 738.85Q115.60 736.05 119.30 738.85" />
<path class="sp" d="M111.90 741.80Q115.60 739.00 119.30 741.80" />
<path class="sp2" d="M111.85 615.80L111.85 743.20"/>
<path class="sp2" d="M119.35 615.80L119.35 743.20"/>
<path class="sp2" d="M111.85 743.20Q115.60 745.00 119.35 743.20" />
<path class="l" d="M507.5 714A3.8 5.8 0 0 1 514.5 714" />
<ellipse class="l" cx="511.00" cy="711.30" rx="2.30" ry="1.20"/>
<path class="l" d="M507.5 714Q511.0 716.4 514.5 714" />
<path class="k" d="M506.7 715.2Q511.0 718.6 515.3 715.2" />
<path class="k" d="M506.7 716.0Q511.0 719.4 515.3 716.0" />
<path class="l" d="M507.5 714L506.5 716L506.5 726.4M514.5 714L515.5 716L515.5 726.4" />
<path class="l" d="M506.5 718.5Q511.0 722 515.5 718.5" />
<path class="l" d="M506.5 726.4L507.5 727.2M515.5 726.4L514.5 727.2" />
<path class="l" d="M507.5 727.2Q511.0 729.2 514.5 727.2" />
<path class="l" d="M507.5 727.2L507.5 756M514.5 727.2L514.5 756" />
<path class="l" d="M506.5 755.3L506.5 908M515.5 755.3L515.5 908" />
<path class="l" d="M506.5 755.3Q506.7 757.5 507.5 757.6M515.5 755.3Q515.3 757.5 514.5 757.6" />
<path class="l" d="M507.1 756.5Q511.0 760.5 514.9 756.5" />
<path class="w" d="M502.1 909.3L502.1 920A8.9 3.8 0 0 0 519.9 920L519.9 909.3"/>
<ellipse class="w" cx="511.00" cy="909.30" rx="8.90" ry="4.00" transform="rotate(0 511.00 909.30)"/>
<path class="w" style="stroke:none" d="M506.6 900L515.4 900L515.4 909Q511.0 912.4 506.6 909Z"/>
<path class="l" d="M506.5 900L506.5 909A4.5 2.2 0 0 0 515.5 909L515.5 900" />
<path class="l" d="M504.0 908.4A7.0 3.0 0 0 0 518.0 908.4" />
<path class="l" d="M504.8 908.0A6.2 2.7 0 0 0 517.2 908.0" />
<path class="l" d="M502.1 911.0A8.9 3.8 0 0 0 519.9 911.0" />
<path class="l" d="M502.1 914.6A8.9 3.8 0 0 0 519.9 914.6" />
<path class="k" d="M502.1 915.6A8.9 3.8 0 0 0 519.9 915.6" />
<path class="l" d="M502.1 917.4A8.9 3.8 0 0 0 519.9 917.4" />
<path class="k" d="M502.1 918.4A8.9 3.8 0 0 0 519.9 918.4" />
<path class="l" d="M502.1 919.4A8.9 3.8 0 0 0 519.9 919.4" />
<path class="wk" d="M540.00 754.30L541.50 751.50L544.80 748.70L551.40 745.70L556.00 747.10L559.60 749.40L562.50 753.20L564.00 757.20L564.20 761.20L563.30 764.60L559.50 768.50L554.40 771.30L548.50 770.90"/>
<path class="l" d="M554.60 753.10L562.60 749.70"/>
<path class="l" d="M555.90 764.30L563.80 760.60"/>
<path class="l" d="M545.00 748.70L548.80 751.70"/>
<path class="l" d="M548.80 751.70Q552.50 751.10 554.60 753.10Q557.20 758.20 555.90 764.30" />
<ellipse class="wk" cx="548.20" cy="761.70" rx="8.30" ry="10.20" transform="rotate(12 548.20 761.70)"/>
<ellipse class="w" cx="547.50" cy="762.20" rx="6.90" ry="8.80" transform="rotate(12 547.50 762.20)"/>
<clipPath id="hn758"><ellipse cx="547.50" cy="762.20" rx="6.9" ry="8.8" transform="rotate(12 547.50 762.20)"/></clipPath>
<g clip-path="url(#hn758)">
<ellipse class="l" cx="543.70" cy="763.60" rx="5.20" ry="6.60" transform="rotate(10 543.70 763.60)"/>
<ellipse class="l" cx="545.05" cy="763.00" rx="5.20" ry="6.60" transform="rotate(10 545.05 763.00)"/>
<ellipse class="l" cx="546.40" cy="762.40" rx="5.20" ry="6.60" transform="rotate(10 546.40 762.40)"/>
<ellipse class="l" cx="547.75" cy="761.80" rx="5.20" ry="6.60" transform="rotate(10 547.75 761.80)"/>
<ellipse class="l" cx="549.10" cy="761.20" rx="5.20" ry="6.60" transform="rotate(10 549.10 761.20)"/>
</g>
<ellipse class="w" cx="543.70" cy="763.60" rx="5.20" ry="6.60" transform="rotate(10 543.70 763.60)"/>
<ellipse class="l" cx="544.00" cy="763.90" rx="2.80" ry="3.90" transform="rotate(10 544.00 763.90)"/>
<path class="l" d="M543.00 767.50Q546.80 763.90 545.20 760.30" />
<path class="wk" d="M540.00 791.70L541.50 788.90L544.80 786.10L551.40 783.10L556.00 784.50L559.60 786.80L562.50 790.60L564.00 794.60L564.20 798.60L563.30 802.00L559.50 805.90L554.40 808.70L548.50 808.30"/>
<path class="l" d="M554.60 790.50L562.60 787.10"/>
<path class="l" d="M555.90 801.70L563.80 798.00"/>
<path class="l" d="M545.00 786.10L548.80 789.10"/>
<path class="l" d="M548.80 789.10Q552.50 788.50 554.60 790.50Q557.20 795.60 555.90 801.70" />
<ellipse class="wk" cx="548.20" cy="799.10" rx="8.30" ry="10.20" transform="rotate(12 548.20 799.10)"/>
<ellipse class="w" cx="547.50" cy="799.60" rx="6.90" ry="8.80" transform="rotate(12 547.50 799.60)"/>
<clipPath id="hn796"><ellipse cx="547.50" cy="799.60" rx="6.9" ry="8.8" transform="rotate(12 547.50 799.60)"/></clipPath>
<g clip-path="url(#hn796)">
<ellipse class="l" cx="543.70" cy="801.00" rx="5.20" ry="6.60" transform="rotate(10 543.70 801.00)"/>
<ellipse class="l" cx="545.05" cy="800.40" rx="5.20" ry="6.60" transform="rotate(10 545.05 800.40)"/>
<ellipse class="l" cx="546.40" cy="799.80" rx="5.20" ry="6.60" transform="rotate(10 546.40 799.80)"/>
<ellipse class="l" cx="547.75" cy="799.20" rx="5.20" ry="6.60" transform="rotate(10 547.75 799.20)"/>
<ellipse class="l" cx="549.10" cy="798.60" rx="5.20" ry="6.60" transform="rotate(10 549.10 798.60)"/>
</g>
<ellipse class="w" cx="543.70" cy="801.00" rx="5.20" ry="6.60" transform="rotate(10 543.70 801.00)"/>
<ellipse class="l" cx="544.00" cy="801.30" rx="2.80" ry="3.90" transform="rotate(10 544.00 801.30)"/>
<path class="l" d="M543.00 804.90Q546.80 801.30 545.20 797.70" />
<path class="wk" d="M540.00 829.10L541.50 826.30L544.80 823.50L551.40 820.50L556.00 821.90L559.60 824.20L562.50 828.00L564.00 832.00L564.20 836.00L563.30 839.40L559.50 843.30L554.40 846.10L548.50 845.70"/>
<path class="l" d="M554.60 827.90L562.60 824.50"/>
<path class="l" d="M555.90 839.10L563.80 835.40"/>
<path class="l" d="M545.00 823.50L548.80 826.50"/>
<path class="l" d="M548.80 826.50Q552.50 825.90 554.60 827.90Q557.20 833.00 555.90 839.10" />
<ellipse class="wk" cx="548.20" cy="836.50" rx="8.30" ry="10.20" transform="rotate(12 548.20 836.50)"/>
<ellipse class="w" cx="547.50" cy="837.00" rx="6.90" ry="8.80" transform="rotate(12 547.50 837.00)"/>
<clipPath id="hn833"><ellipse cx="547.50" cy="837.00" rx="6.9" ry="8.8" transform="rotate(12 547.50 837.00)"/></clipPath>
<g clip-path="url(#hn833)">
<ellipse class="l" cx="543.70" cy="838.40" rx="5.20" ry="6.60" transform="rotate(10 543.70 838.40)"/>
<ellipse class="l" cx="545.05" cy="837.80" rx="5.20" ry="6.60" transform="rotate(10 545.05 837.80)"/>
<ellipse class="l" cx="546.40" cy="837.20" rx="5.20" ry="6.60" transform="rotate(10 546.40 837.20)"/>
<ellipse class="l" cx="547.75" cy="836.60" rx="5.20" ry="6.60" transform="rotate(10 547.75 836.60)"/>
<ellipse class="l" cx="549.10" cy="836.00" rx="5.20" ry="6.60" transform="rotate(10 549.10 836.00)"/>
</g>
<ellipse class="w" cx="543.70" cy="838.40" rx="5.20" ry="6.60" transform="rotate(10 543.70 838.40)"/>
<ellipse class="l" cx="544.00" cy="838.70" rx="2.80" ry="3.90" transform="rotate(10 544.00 838.70)"/>
<path class="l" d="M543.00 842.30Q546.80 838.70 545.20 835.10" />
<ellipse class="l" cx="547.00" cy="963.80" rx="3.90" ry="1.80"/>
<ellipse class="l" cx="547.00" cy="963.90" rx="2.30" ry="1.00"/>
<path class="l" d="M543.1 963.8L543.1 973.5M550.9 963.8L550.9 973.5" />
<path class="k" d="M543.10 966.20Q547.00 967.70 550.90 966.20" />
<path class="k" d="M543.10 967.80Q547.00 969.30 550.90 967.80" />
<path class="k" d="M543.10 969.40Q547.00 970.90 550.90 969.40" />
<path class="k" d="M543.10 971.00Q547.00 972.50 550.90 971.00" />
<path class="k" d="M543.10 972.60Q547.00 974.10 550.90 972.60" />
<path class="w" d="M541.6 974.5L541.6 981.5A5.5 2.4 0 0 0 552.6 981.5L552.6 974.5Z"/>
<ellipse class="w" cx="547.10" cy="974.50" rx="5.50" ry="2.30" transform="rotate(0 547.10 974.50)"/>
<path class="l" d="M543.1 973.2A4 1.7 0 0 0 550.9 973.2" />
<ellipse class="l" cx="643.50" cy="837.40" rx="4.30" ry="2.40"/>
<path class="l" d="M639.2 837.2L639.2 876.5M647.8 837.2L647.8 876.5" />
<path d="M639.6 840.2L643.6 842.4L643.4 849.2L639.6 847.4Z" fill="#222"/>
<path class="l" d="M639.9 852.4L642.8 853.2L642.8 861.6L639.9 860.8Z" />
<ellipse class="l" cx="643.50" cy="878.00" rx="7.30" ry="4.00"/>
<path class="l" d="M636.2 878.0L636.2 880.0A7.3 4.0 0 0 0 650.8 880.0L650.8 878.0" />
<path d="M639.9 874.6L642.6 876.2L642.2 877.4L639.9 876.2Z" fill="#222"/>
<path class="l" d="M637.07 980.46C637.07 979.87 637.00 978.69 637.07 976.92C637.14 975.15 636.94 972.21 637.46 969.85C637.99 967.49 638.97 965.14 640.21 962.78C641.46 960.42 643.09 957.81 644.93 955.71C646.76 953.62 649.11 951.48 651.21 950.21C653.30 948.94 655.53 948.09 657.49 948.09C659.46 948.09 661.55 948.94 662.99 950.21C664.43 951.48 665.51 953.49 666.14 955.71C666.76 957.94 666.66 960.29 666.76 963.57C666.87 966.84 666.76 973.39 666.76 975.35" />
<path class="l" d="M640.60 980.46C640.60 979.87 640.54 978.43 640.60 976.92C640.67 975.42 640.54 973.52 641.00 971.42C641.46 969.33 642.31 966.51 643.35 964.35C644.40 962.19 645.71 960.23 647.28 958.46C648.85 956.69 651.08 954.79 652.78 953.75C654.48 952.70 656.12 952.18 657.49 952.18C658.87 952.18 660.18 952.77 661.03 953.75C661.88 954.73 662.30 956.43 662.60 958.07C662.90 959.70 662.80 960.82 662.84 963.57C662.88 966.32 662.84 972.73 662.84 974.56" />
<path class="l" d="M637.07 976.92L640.60 976.92"/>
<path class="l" d="M637.07 980.46L640.60 980.46"/>
<path class="l" d="M659.85 975.74C659.85 977.12 659.88 981.31 659.85 983.99C659.82 986.67 659.43 990.17 659.69 991.85C659.96 993.52 660.61 993.57 661.42 994.05C662.23 994.52 663.52 994.67 664.56 994.67C665.61 994.67 666.86 994.45 667.71 994.05C668.56 993.64 669.34 992.54 669.67 992.24" />
<path class="l" d="M659.85 975.74C660.11 975.55 660.92 974.76 661.42 974.56C661.92 974.37 662.60 974.56 662.84 974.56" />
<path class="l" d="M666.76 975.35C667.05 975.22 668.20 973.91 668.49 974.56C668.78 975.22 668.49 978.49 668.49 979.28" />
<path class="l" d="M659.85 976.92C660.37 977.21 661.84 978.52 662.99 978.65C664.15 978.78 665.85 978.10 666.76 977.71C667.68 977.31 668.20 976.53 668.49 976.29" />
<path class="l" d="M660.24 990.27C660.70 990.60 661.88 991.91 662.99 992.24C664.11 992.57 665.87 992.50 666.92 992.24C667.97 991.98 668.88 990.93 669.28 990.67" />
<path class="l" d="M661.81 979.28L672.81 983.36"/>
<path class="l" d="M665.74 987.92L672.03 991.22"/>
<path class="l" d="M668.49 979.28L673.99 982.42"/>
<ellipse class="l" cx="674.38" cy="987.13" rx="3.00" ry="4.60" transform="rotate(25 674.38 987.13)"/>
<path class="l" d="M670.85 983.99C670.69 984.51 669.84 985.95 669.91 987.13C669.97 988.31 671.02 990.41 671.24 991.06" />
<path d="M660.87 977.55L663.39 979.67L661.26 980.22Z" fill="#222"/>
<path d="M669.67 981.87L671.79 982.66L671.48 983.44L669.51 982.81Z" fill="#333"/>
<path d="M665.74 986.50L668.49 987.13L668.49 988.39L665.98 987.92Z" fill="#333"/>
<path class="l" d="M668.49 983.99L668.49 990.27"/>
<path class="l" d="M664.56 980.85L664.56 987.13"/>
<path class="ld" d="M339.5 161H385.5" />
<path class="ld" d="M371 222.5H387.5" />
<path class="ld" d="M414.3 299.7L429.4 273.5" />
<path class="ld" d="M461.7 326.1L476.4 299.6" />
<path class="ld" d="M519.6 337.5H566.8" />
<path class="ld" d="M506.1 404.5H566.8" />
<path class="ld" d="M506.1 426.5H566.8" />
<path class="ld" d="M338.7 405.5H388.2" />
<path class="ld" d="M331.1 458.5H388.2" />
<path class="ld" d="M349.6 489.5H435.5V794.5H342.6" />
<path class="ld" d="M350.9 522.5H435.5" />
<path class="ld" d="M352.2 561.5H435.5" />
<path class="ld" d="M435.5 540.5H449.5" />
<path class="ld" d="M342.3 713.5H387.2" />
<path class="ld" d="M126.3 715.5H145.5V767.5H88.9" />
<path class="ld" d="M145.5 741.5H160.2" />
<path class="ld" d="M567.1 833.5H586.5V884.5H520.1" />
<path class="ld" d="M586.5 859.5H602.4" />
<path class="ld" d="M553.2 972.5H601.8" />
<text class="n" x="387.4" y="168.85">1</text>
<text class="n" x="389.7" y="229.9">2</text>
<text class="n" x="423.6" y="270.0">3</text>
<text class="n" x="470.2" y="296.85">4</text>
<text class="n" x="568.1" y="345.15">7</text>
<text class="n" x="568.1" y="412.65">6</text>
<text class="n" x="568.2" y="434.8">5</text>
<text class="n" x="389.7" y="413.8">8</text>
<text class="n" x="389.6" y="466.5">9</text>
<text class="n" x="450.6" y="548.6">10</text>
<text class="n" x="387.6" y="721.35">11</text>
<text class="n" x="162.6" y="749.7">12</text>
<text class="n" x="603.9" y="867.15">13</text>
<text class="n" x="602.7" y="980.05">14</text>
<text class="y" x="650.5" y="862.7">&lt; 2023</text>
<text class="y" x="674.7" y="976.5">&lt; 2023</text>
</svg>
</body></html>
